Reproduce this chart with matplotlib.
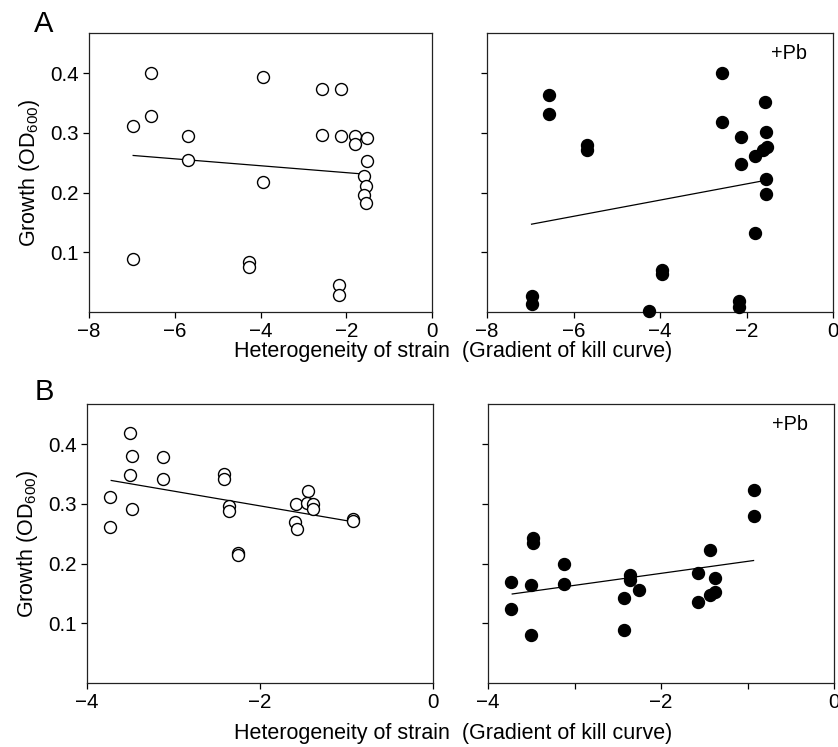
import numpy as np
import matplotlib
matplotlib.use("Agg")
import matplotlib.pyplot as plt

plt.rcParams['font.family'] = ['Liberation Sans', 'DejaVu Sans']
plt.rcParams['mathtext.fontset'] = 'custom'
plt.rcParams['mathtext.rm'] = 'Liberation Sans'

# Panel A, no lead (open circles)
xa = [-6.97, -6.97, -6.56, -6.56, -5.69, -5.69, -3.95, -3.95, -4.26, -4.26,
      -2.56, -2.56, -2.12, -2.12, -2.16, -2.16, -1.79, -1.79, -1.52, -1.52,
      -1.59, -1.54, -1.59, -1.54]
ya = [0.312, 0.089, 0.400, 0.328, 0.294, 0.254, 0.394, 0.218, 0.084, 0.076,
      0.374, 0.296, 0.374, 0.295, 0.045, 0.029, 0.295, 0.282, 0.291, 0.252,
      0.227, 0.211, 0.196, 0.183]
fit_a_x = [-6.97, -1.61]
fit_a_y = [0.262, 0.231]

# Panel A, +Pb (filled circles)
xa_pb = [-6.97, -6.97, -6.57, -6.57, -5.69, -5.69, -3.95, -3.95, -4.26,
         -2.56, -2.56, -2.12, -2.12, -2.18, -2.18, -1.80, -1.80,
         -1.57, -1.55, -1.53, -1.62, -1.55, -1.55]
ya_pb = [0.027, 0.013, 0.363, 0.331, 0.280, 0.271, 0.070, 0.064, 0.001,
         0.400, 0.318, 0.293, 0.248, 0.018, 0.009, 0.261, 0.132,
         0.351, 0.301, 0.277, 0.271, 0.222, 0.197]
fit_apb_x = [-6.97, -1.66]
fit_apb_y = [0.147, 0.219]

# Panel B, no lead (open circles)
xb = [-3.73, -3.73, -3.50, -3.48, -3.50, -3.48, -3.12, -3.12, -2.42, -2.42,
      -2.36, -2.36, -2.26, -2.26, -1.58, -1.60, -1.57, -1.45, -1.46, -1.39,
      -1.39, -0.93, -0.93]
yb = [0.312, 0.261, 0.418, 0.380, 0.348, 0.292, 0.378, 0.341, 0.350, 0.341,
      0.296, 0.288, 0.218, 0.214, 0.300, 0.269, 0.257, 0.322, 0.302, 0.300,
      0.292, 0.275, 0.271]
fit_b_x = [-3.72, -0.93]
fit_b_y = [0.339, 0.270]

# Panel B, +Pb (filled circles)
xb_pb = [-3.73, -3.73, -3.48, -3.48, -3.50, -3.50, -3.12, -3.12, -2.43, -2.43,
         -2.36, -2.36, -2.26, -1.57, -1.57, -1.43, -1.43, -1.38, -1.38,
         -0.93, -0.93]
yb_pb = [0.169, 0.124, 0.242, 0.235, 0.164, 0.080, 0.199, 0.165, 0.143, 0.088,
         0.180, 0.172, 0.156, 0.184, 0.135, 0.223, 0.147, 0.175, 0.152,
         0.323, 0.279]
fit_bpb_x = [-3.72, -0.93]
fit_bpb_y = [0.149, 0.205]

yticks = [0.1, 0.2, 0.3, 0.4]
ylabel = r'Growth (OD$_{\mathrm{600}}$)'
xlabel = 'Heterogeneity of strain  (Gradient of kill curve)'

fig = plt.figure(figsize=(8.38, 7.47), dpi=100)
W, H = 838, 747

def add_ax(l, t, r, b):
    return fig.add_axes([l / W, 1 - b / H, (r - l) / W, (b - t) / H])

ax1 = add_ax(89, 33, 432, 312)
ax2 = add_ax(487, 33, 833, 312)
ax3 = add_ax(87, 404, 433, 683)
ax4 = add_ax(488, 404, 834, 683)

ms = 8.6
for ax in (ax1, ax2, ax3, ax4):
    ax.set_ylim(0, 0.467)
    ax.set_yticks(yticks)
    ax.tick_params(direction='out', length=4, width=0.9, labelsize=14.8, pad=3.5)
    for s in ax.spines.values():
        s.set_linewidth(0.9)
        s.set_color('#222222')

for ax in (ax1, ax2):
    ax.set_xlim(-8, 0)
    ax.set_xticks([-8, -6, -4, -2, 0])
for ax in (ax3, ax4):
    ax.set_xlim(-4, 0)
    ax.set_xticks([-4, -2, 0])
ax4.set_xticks([-3, -1], minor=True)
ax4.tick_params(which='minor', direction='out', length=4, width=0.9)

ax2.set_yticklabels([])
ax4.set_yticklabels([])
for ax in (ax1, ax3):
    ax.set_yticklabels([f'{v:.1f}' for v in yticks])
    ax.set_ylabel(ylabel, fontsize=15.5, labelpad=6)

ax1.plot(xa, ya, 'o', ms=ms, mfc='white', mec='black', mew=1.0, zorder=3)
ax1.plot(fit_a_x, fit_a_y, color='black', lw=0.9, zorder=2)

ax2.plot(xa_pb, ya_pb, 'o', ms=ms, mfc='black', mec='black', clip_on=False, zorder=3)
ax2.plot(fit_apb_x, fit_apb_y, color='black', lw=0.9, zorder=2)

ax3.plot(xb, yb, 'o', ms=ms, mfc='white', mec='black', mew=1.0, zorder=3)
ax3.plot(fit_b_x, fit_b_y, color='black', lw=0.9, zorder=2)

ax4.plot(xb_pb, yb_pb, 'o', ms=ms, mfc='black', mec='black', zorder=3)
ax4.plot(fit_bpb_x, fit_bpb_y, color='black', lw=0.9, zorder=2)

for ax in (ax2, ax4):
    ax.text(0.925, 0.96, '+Pb', transform=ax.transAxes, ha='right', va='top',
            fontsize=14.3)

fig.text(453 / W, 1 - 351 / H, xlabel, ha='center', va='center', fontsize=15.5)
fig.text(453 / W, 1 - 733 / H, xlabel, ha='center', va='center', fontsize=15.5)
fig.text(44 / W, 1 - 24 / H, 'A', ha='center', va='center', fontsize=21)
fig.text(44 / W, 1 - 392 / H, 'B', ha='center', va='center', fontsize=21)

fig.savefig('out.png', dpi=100)
